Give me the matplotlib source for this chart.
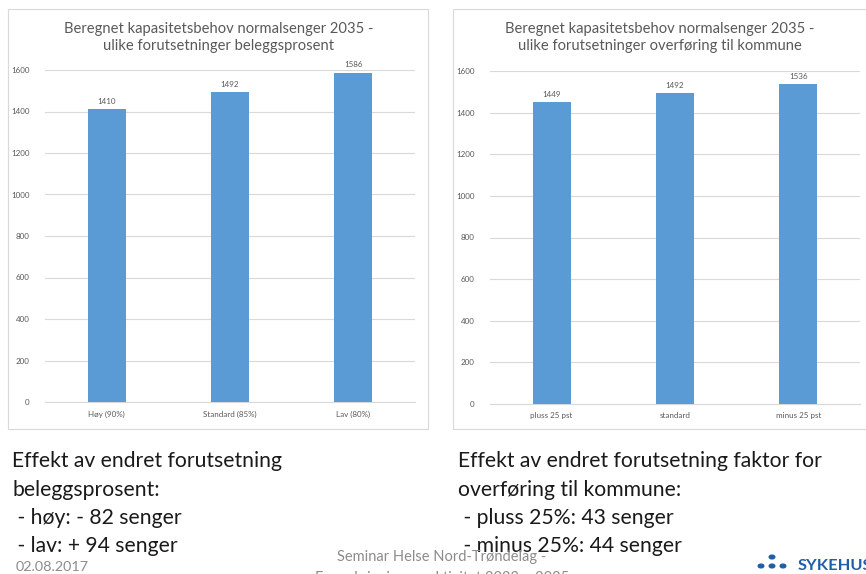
import numpy as np
import matplotlib.pyplot as plt
from matplotlib.patches import Rectangle

plt.rcParams['font.family'] = ['Lato', 'DejaVu Sans']

# data
cats_left = ['Høy (90%)', 'Standard (85%)', 'Lav (80%)']
vals_left = [1410, 1492, 1586]
cats_right = ['pluss 25 pst', 'standard', 'minus 25 pst']
vals_right = [1449, 1492, 1536]
yticks = [0, 200, 400, 600, 800, 1000, 1200, 1400, 1600]

title_left = 'Beregnet kapasitetsbehov normalsenger 2035 -\nulike forutsetninger beleggsprosent'
title_right = 'Beregnet kapasitetsbehov normalsenger 2035 -\nulike forutsetninger overføring til kommune'

text_left = ['Effekt av endret forutsetning', 'beleggsprosent:', ' - høy: - 82 senger', ' - lav: + 94 senger']
text_right = ['Effekt av endret forutsetning faktor for', 'overføring til kommune:', ' - pluss 25%: 43 senger', ' - minus 25%: 44 senger']

W, H = 866, 574
bar_color = '#5B9BD5'
grey = '#595959'

fig = plt.figure(figsize=(W / 100, H / 100), dpi=100)


def px(x, y, w, h):
    # pixel box (top-left origin) -> figure fraction
    return [x / W, 1 - (y + h) / H, w / W, h / H]


def chart(box, frame, cats, vals, title, title_x):
    fig.add_artist(Rectangle((frame[0] / W, 1 - (frame[1] + frame[3]) / H), frame[2] / W, frame[3] / H,
                             transform=fig.transFigure, fill=False, edgecolor='#d9d9d9', linewidth=0.8))
    ax = fig.add_axes(px(*box))
    x = np.arange(len(cats))
    bars = ax.bar(x, vals, width=0.31, color=bar_color, zorder=3)
    for b, v in zip(bars, vals):
        ax.text(b.get_x() + b.get_width() / 2, v + 22, str(v), ha='center', va='bottom',
                fontsize=5.8, color=grey, clip_on=False)
    ax.set_xlim(-0.5, len(cats) - 0.5)
    ax.set_ylim(0, 1600)
    ax.set_yticks(yticks)
    ax.set_xticks(x)
    ax.set_xticklabels(cats)
    ax.tick_params(axis='both', length=0, labelsize=5.8, labelcolor=grey)
    ax.tick_params(axis='y', pad=11)
    ax.tick_params(axis='x', pad=6)
    ax.grid(axis='y', color='#d9d9d9', linewidth=0.8, zorder=0)
    for s in ax.spines.values():
        s.set_visible(False)
    ax.spines['bottom'].set_visible(True)
    ax.spines['bottom'].set_color('#d9d9d9')
    ax.patch.set_alpha(0)
    fig.text(title_x / W, 1 - 37.5 / H, title, ha='center', va='center', fontsize=10.6,
             color=grey, linespacing=1.35)
    return ax


chart((45, 70, 370, 332), (8, 9, 420, 420), cats_left, vals_left, title_left, 219)
chart((490, 71, 370, 333), (453, 9, 430, 420), cats_right, vals_right, title_right, 660)

for i, line in enumerate(text_left):
    fig.text(12 / W, 1 - (461 + i * 28.5) / H, line, ha='left', va='center', fontsize=15.2, color='#1a1a1a')
for i, line in enumerate(text_right):
    fig.text(458 / W, 1 - (461 + i * 28.5) / H, line, ha='left', va='center', fontsize=15.2, color='#1a1a1a')

# footer
fig.text(16 / W, 1 - 567 / H, '02.08.2017', ha='left', va='center', fontsize=10.4, color='#8c8c8c')
fig.text(442 / W, 1 - 557 / H, 'Seminar Helse Nord-Trøndelag -', ha='center', va='center',
         fontsize=10.5, color='#8c8c8c')
fig.text(442 / W, 1 - 578 / H, 'Framskrivning av aktivitet 2023 – 2035', ha='center', va='center',
         fontsize=10.5, color='#8c8c8c')
fig.text(798 / W, 1 - 566 / H, 'SYKEHUS', ha='left', va='center', fontsize=11.8, color='#1f5fa8',
         fontweight='bold')
for cx, cy in [(772, 557), (761, 566), (772, 566), (783, 566)]:
    fig.add_artist(plt.Circle((cx / W, 1 - cy / H), 2.8 / W,
                              transform=fig.transFigure, color='#1f5fa8'))

fig.savefig('out.png', dpi=100)
